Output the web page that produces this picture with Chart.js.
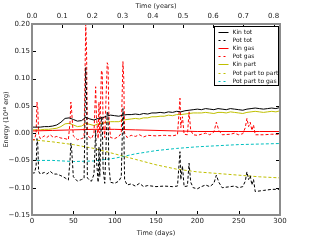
<!DOCTYPE html>
<html>
<head>
<meta charset="utf-8">
<script src="https://cdn.jsdelivr.net/npm/chart.js@4.4.1/dist/chart.umd.min.js"></script>
<style>
  body { margin: 0; background: #fff; }
  #wrap { width: 313px; height: 240px; }
</style>
</head>
<body>
<div id="wrap"><canvas id="myChart" width="313" height="240"></canvas></div>
<script>
// time grid for the smooth kinetic curves (days)
var days = [0,5,10,15,20,25,30,35,40,45,50,55,60,65,70,75,80,85,90,95,100,105,110,115,120,125,130,135,140,145,150,
  155,160,165,170,175,180,185,190,195,200,205,210,215,220,225,230,235,240,245,250,255,260,265,270,275,280,285,290,295,300];
var kinTot = [.011,.011,.011,.012,.012,.013,.015,.020,.027,.028,.025,.022,.023,.029,.026,.024,.027,.028,.031,.033,.032,
  .031,.033,.034,.034,.035,.034,.036,.035,.037,.037,.038,.037,.039,.038,.040,.039,.041,.042,.043,.044,.043,.045,.044,
  .043,.045,.044,.043,.045,.044,.043,.042,.044,.045,.046,.045,.044,.045,.046,.045,.047];
var kinPart = [.006,.006,.006,.007,.007,.008,.009,.012,.017,.018,.015,.012,.013,.018,.016,.014,.017,.018,.020,.021,.021,
  .021,.024,.025,.026,.027,.026,.028,.028,.030,.030,.031,.031,.033,.032,.034,.034,.035,.036,.037,.037,.037,.038,.037,
  .036,.038,.038,.037,.039,.038,.037,.036,.038,.039,.040,.039,.038,.039,.040,.039,.041];

// coarse grid for slow curves
var slowDays = [0,25,50,75,100,125,150,175,200,225,250,275,300];
var kinGas = [.004,.005,.006,.007,.007,.006,.005,.004,.003,.003,.003,.003,.003];
var potPartPart = [-.012,-.016,-.021,-.028,-.038,-.048,-.058,-.066,-.071,-.074,-.077,-.080,-.082];
var potPartGas = [-.050,-.050,-.052,-.051,-.046,-.038,-.032,-.028,-.025,-.023,-.021,-.020,-.019];

// fine grid for the spiky potential curves
var spikeDays = [0,3,5,6,7,8,10,15,18,22,26,30,35,40,44,46,47,48,50,55,60,63,65,66,67,70,72,75,77,78,80,81,82,84,85,86,88,
  91,92,93,95,100,105,108,110,111,112,115,120,125,130,135,140,150,160,170,176,178,179,180,182,184,188,190,192,195,200,
  205,210,215,220,223,226,230,240,245,250,255,258,260,262,264,266,268,270,280,290,300];
var potGas = [-.012,-.012,.000,.057,.045,-.002,-.010,-.005,-.008,-.003,-.008,-.006,-.009,-.010,-.012,.020,.057,.040,-.005,
  -.012,-.010,-.008,.200,.150,-.005,-.008,-.010,.000,.085,.030,-.010,.057,.000,.115,.110,.020,-.008,
  .129,.125,.030,-.008,-.010,-.006,.000,.131,.100,.000,-.008,-.004,-.006,-.003,-.007,-.004,-.005,-.004,-.005,-.003,.040,.064,
  .010,.030,-.002,-.003,.039,.005,-.003,-.004,-.002,.000,-.003,.002,.020,.005,-.003,-.002,.000,-.003,-.001,.010,.027,.012,
  .020,.005,.015,-.003,-.003,-.002,-.002];
var potTot = [-.073,-.073,-.060,-.010,-.020,-.070,-.075,-.072,-.075,-.070,-.075,-.075,-.078,-.082,-.086,-.050,-.018,-.030,
  -.080,-.088,-.085,-.083,.120,.070,-.082,-.087,-.088,-.075,.005,-.050,-.090,-.025,-.080,.030,.025,-.065,-.092,
  .040,.035,-.060,-.090,-.092,-.088,-.080,.045,.015,-.085,-.095,-.093,-.097,-.092,-.098,-.096,-.098,-.097,-.098,-.097,-.055,
  -.034,-.085,-.060,-.098,-.097,-.055,-.090,-.100,-.102,-.098,-.095,-.098,-.092,-.077,-.090,-.100,-.098,-.097,-.100,-.098,
  -.088,-.071,-.085,-.078,-.095,-.085,-.107,-.105,-.103,-.103];

var yTicksMin = -0.15, yTicksMax = 0.20;
var yearsMax = 300 / 365.25;

function pts(xs, ys) {
    return xs.map(function (d, i) { return { x: d, y: ys[i] }; });
}

var dash = [3, 2];
var datasets = [
    { label: 'Kin tot', data: pts(days, kinTot), borderColor: '#000000' },
    { label: 'Pot tot', data: pts(spikeDays, potTot), borderColor: '#000000', borderDash: dash },
    { label: 'Kin gas', data: pts(slowDays, kinGas), borderColor: '#ff0000' },
    { label: 'Pot gas', data: pts(spikeDays, potGas), borderColor: '#ff0000', borderDash: dash },
    { label: 'Kin part', data: pts(days, kinPart), borderColor: '#bfbf00' },
    { label: 'Pot part to part', data: pts(slowDays, potPartPart), borderColor: '#bfbf00', borderDash: dash },
    { label: 'Pot part to gas', data: pts(slowDays, potPartGas), borderColor: '#00bfbf', borderDash: dash }
];
datasets.forEach(function (ds) {
    ds.borderWidth = 1;
    ds.pointRadius = 0;
    ds.tension = 0;
    ds.fill = false;
    ds.xAxisID = 'x';
});

var font = 'DejaVu Sans';

// inward ticks on all four sides + gray frame + legend box
var frameTicks = {
    id: 'frameTicks',
    afterDraw: function (chart) {
        var c = chart.ctx, a = chart.chartArea;
        var sx = chart.scales.x, sx2 = chart.scales.x2, sy = chart.scales.y;
        c.save();
        c.strokeStyle = '#000';
        c.lineWidth = 1;
        c.beginPath();
        sx.ticks.forEach(function (t) {
            var px = Math.round(sx.getPixelForValue(t.value)) + 0.5;
            c.moveTo(px, a.bottom); c.lineTo(px, a.bottom - 4);
        });
        sx2.ticks.forEach(function (t) {
            var px = Math.round(sx2.getPixelForValue(t.value)) + 0.5;
            c.moveTo(px, a.top); c.lineTo(px, a.top + 4);
        });
        sy.ticks.forEach(function (t) {
            var py = Math.round(sy.getPixelForValue(t.value)) + 0.5;
            c.moveTo(a.left, py); c.lineTo(a.left + 4, py);
            c.moveTo(a.right, py); c.lineTo(a.right - 4, py);
        });
        c.stroke();
        c.strokeStyle = '#8c8c8c';
        c.lineWidth = 2;
        c.strokeRect(a.left, a.top, a.right - a.left, a.bottom - a.top);

        var w = 64, h = 59;
        var x1 = a.right - w - 1.5, y1 = a.top + 2.5;
        c.fillStyle = '#fff';
        c.fillRect(x1, y1, w, h);
        c.strokeStyle = '#000';
        c.lineWidth = 1;
        c.strokeRect(x1, y1, w, h);
        c.font = '6px "' + font + '"';
        c.textBaseline = 'middle';
        c.textAlign = 'left';
        chart.data.datasets.forEach(function (ds, i) {
            var yy = Math.round(y1 + 5 + i * 8.2) + 0.5;
            c.strokeStyle = ds.borderColor;
            c.setLineDash(ds.borderDash ? [2, 3] : []);
            c.beginPath();
            c.moveTo(x1 + 4, yy); c.lineTo(x1 + 14, yy);
            c.stroke();
            c.setLineDash([]);
            c.fillStyle = '#111';
            c.fillText(ds.label, x1 + 18, yy);
        });
        c.restore();
    }
};

var ctx = document.getElementById('myChart').getContext('2d');
var myChart = new Chart(ctx, {
    type: 'line',
    data: { datasets: datasets },
    plugins: [frameTicks],
    options: {
        responsive: false,
        animation: false,
        devicePixelRatio: 1,
        layout: { padding: { right: 33, left: 0, top: 0, bottom: 0 } },
        plugins: { legend: { display: false }, tooltip: { enabled: false } },
        scales: {
            x: {
                type: 'linear', position: 'bottom', min: 0, max: 300,
                grid: { display: false, drawTicks: false, tickLength: 0 }, border: { display: false },
                ticks: { stepSize: 50, includeBounds: false, maxRotation: 0, padding: 2, color: '#222', font: { family: font, size: 7 } },
                title: { display: true, text: 'Time (days)', color: '#222', padding: { top: 0, bottom: 3 }, font: { family: font, size: 6.5 } },
                afterFit: function (s) { s.height = 25; }
            },
            x2: {
                type: 'linear', position: 'top', min: 0, max: yearsMax,
                grid: { display: false, drawTicks: false, tickLength: 0 }, border: { display: false },
                ticks: { stepSize: 0.1, includeBounds: false, maxRotation: 0, padding: 4, color: '#222', font: { family: font, size: 7 },
                    callback: function (v) { return v.toFixed(1); } },
                title: { display: true, text: 'Time (years)', color: '#222', padding: { top: 2, bottom: 0 }, font: { family: font, size: 6.5 } },
                afterFit: function (s) { s.height = 24; }
            },
            y: {
                min: yTicksMin, max: yTicksMax,
                grid: { display: false, drawTicks: false, tickLength: 0 }, border: { display: false },
                ticks: { stepSize: 0.05, padding: 2, color: '#222', font: { family: font, size: 7 },
                    callback: function (v) {
                        if (Math.abs(v) < 1e-9) v = 0;
                        return v.toFixed(2).replace('-', '\u2212');
                    } },
                title: { display: true, text: 'Energy (10\u2074\u2078 erg)', color: '#222', padding: { top: 2, bottom: 0 }, font: { family: font, size: 6.5 } },
                afterFit: function (s) { s.width = 32; }
            }
        }
    }
});
</script>
</body>
</html>
